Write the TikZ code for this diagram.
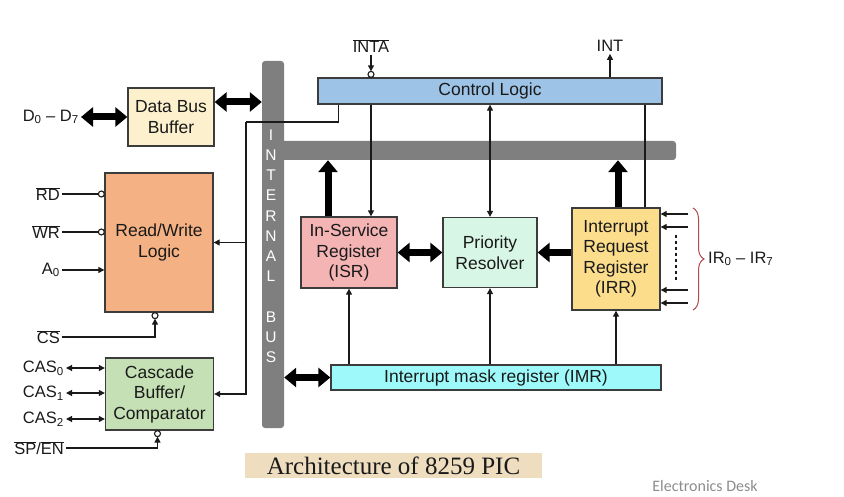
\documentclass[tikz,border=0pt]{standalone}
\usepackage{fontspec}
\setmainfont{Liberation Sans}
\newfontfamily\titlefont{Liberation Serif}
\newfontfamily\deskfont{Carlito}
\usetikzlibrary{arrows.meta,decorations.pathreplacing}
\newcommand{\ovl}[1]{$\overline{\mbox{#1}}$}
\definecolor{picink}{HTML}{1A1A1A}
\definecolor{busgrey}{HTML}{7F7F7F}
\definecolor{dbbfill}{HTML}{FCF0CD}
\definecolor{rwlfill}{HTML}{F4B183}
\definecolor{cbcfill}{HTML}{C5E0B4}
\definecolor{clfill}{HTML}{9DC3E6}
\definecolor{isrfill}{HTML}{F4B4B4}
\definecolor{prfill}{HTML}{D8F6E6}
\definecolor{irrfill}{HTML}{FCDD8C}
\definecolor{imrfill}{HTML}{9EFAFA}
\definecolor{bracered}{HTML}{B04A4A}
\definecolor{titlefill}{HTML}{EEDDBE}
\definecolor{deskgrey}{HTML}{8C8C8C}

\begin{document}
\begin{tikzpicture}[
  x=1pt,
  y=-1pt,
  every node/.style={font=\fontsize{17.5}{20.5}\selectfont, picink},
  block/.style={draw=picink!85, line width=1.3pt, align=center, inner sep=0pt},
  bus/.style={fill=busgrey, rounded corners=3pt, inner sep=0pt},
  busletter/.style={white, font=\fontsize{15.5}{15}\selectfont, inner sep=0pt},
  lbl/.style={font=\fontsize{16.5}{18}\selectfont, inner sep=2pt},
  wire/.style={picink, line width=1.1pt},
  tip/.style={-{Triangle[length=6pt,width=6pt]}},
  tips/.style={{Triangle[length=6pt,width=6pt]}-{Triangle[length=6pt,width=6pt]}},
  bubble/.style={draw=picink, fill=white, line width=1.1pt},
  fat/.style={black, line width=7pt, -{Triangle[length=12pt,width=19pt]}},
  fatboth/.style={fat, {Triangle[length=12pt,width=19pt]}-{Triangle[length=12pt,width=19pt]}}
]
  % ---- page, in pixels of the reference ---------------------------------
  \useasboundingbox (0,0) rectangle (844,497);

  % ---- internal bus ----------------------------------------------------
  \node[bus, minimum width=396pt, minimum height=19pt] (hbus) at (478,150.5) {};
  \node[bus, minimum width=22pt, minimum height=367pt] (vbus) at (273,244.5) {};
  \foreach \ch [count=\i from 0] in {I,N,T,E,R,N,A,L,{},B,U,S}
    \node[busletter] (bl\i) at (271,135+20.2*\i) {\ch};

  % ---- blocks ----------------------------------------------------------
  \node[block, fill=dbbfill, minimum width=86pt, minimum height=58pt] (dbb) at (171,117) {Data Bus\\Buffer};
  \node[block, fill=rwlfill, minimum width=108pt, minimum height=139pt] (rwl) at (159,242.5) {Read/Write\\Logic};
  \node[block, fill=cbcfill, minimum width=108pt, minimum height=72pt] (cbc) at (159.5,394) {Cascade\\Buffer/\\Comparator};
  \node[block, fill=clfill, minimum width=344pt, minimum height=26pt] (cl) at (490,91) {Control Logic};
  \node[block, fill=isrfill, minimum width=96pt, minimum height=71pt] (isr) at (349,252.5) {In-Service\\Register\\(ISR)};
  \node[block, fill=prfill, minimum width=94pt, minimum height=70pt] (pr) at (490,252.5) {Priority\\Resolver};
  \node[block, fill=irrfill, minimum width=88pt, minimum height=102pt] (irr) at (616,259) {Interrupt\\Request\\Register\\(IRR)};
  \node[block, fill=imrfill, minimum width=330pt, minimum height=25pt] (imr) at (496,377.5) {Interrupt mask register (IMR)};

  % ---- data bus side ---------------------------------------------------
  \node[lbl, anchor=east] (d07) at (81,117) {D\textsubscript{0} -- D\textsubscript{7}};
  \draw[fatboth] (d07.east) -- (dbb.west);
  \coordinate (dbbout) at ([yshift=15pt]dbb.east);
  \draw[fatboth] (dbbout) -- (dbbout -| vbus.west);

  % ---- control logic to read/write and cascade -------------------------
  \coordinate (cltap) at ([xshift=21pt]cl.south west);
  \coordinate (rtap) at (246,122);
  \draw[wire] (cltap) |- (rtap);
  \draw[wire, tip] (rtap) |- (cbc.east);
  \draw[wire, tip] (rtap |- rwl.east) -- (rwl.east);

  % ---- INTA and INT ----------------------------------------------------
  \node[lbl] (inta) at (371,46) {\ovl{INTA}};
  \coordinate (intain) at (inta.south |- cl.north);
  \draw[wire, tip] (inta.south) -- ([yshift=6pt]intain);
  \draw[bubble] ([yshift=3pt]intain) circle (3pt);
  \node[lbl] (int) at (610,46) {INT};
  \draw[wire, tip] (int.south |- cl.north) -- (int.south);

  % ---- control logic down to the registers ------------------------------
  \draw[wire, tip] (inta.south |- cl.south) -- (inta.south |- isr.north);
  \draw[wire, tips] (cl.south) -- (pr.north);
  \coordinate (irrtap) at ([xshift=29pt]irr.north);
  \draw[wire] (irrtap) -- (irrtap |- cl.south);

  % ---- wide arrows between the registers and the bus -------------------
  \coordinate (isrup) at ([xshift=-21pt]isr.north);
  \draw[fat] (isrup) -- (isrup |- hbus.south);
  \coordinate (irrup) at ([xshift=2pt]irr.north);
  \draw[fat] (irrup) -- (irrup |- hbus.south);
  \draw[fatboth] (isr.east) -- (pr.west);
  \draw[fat] (pr.east -| irr.west) -- (pr.east);
  \draw[fatboth] (imr.west -| vbus.east) -- (imr.west);

  % ---- mask register up ------------------------------------------------
  \draw[wire, tip] (isr.south |- imr.north) -- (isr.south);
  \draw[wire, tip] (pr.south |- imr.north) -- (pr.south);
  \draw[wire, tip] (irr.south |- imr.north) -- (irr.south);

  % ---- interrupt request inputs ----------------------------------------
  \foreach \ty [count=\j] in {214,227,290,303} {
    \coordinate (irin\j) at (688,\ty);
    \draw[wire, tip] (irin\j) -- (irin\j -| irr.east);
  }
  \draw[wire, dash pattern=on 3pt off 3pt] (676,235) -- (676,281);
  \draw[bracered, line width=1pt, decorate, decoration={brace, amplitude=11pt}] (693,208) -- (693,310);
  \node[lbl, anchor=west] (irlbl) at (706,259) {IR\textsubscript{0} -- IR\textsubscript{7}};

  % ---- read/write inputs -----------------------------------------------
  \node[lbl, anchor=east] (rd) at (62,194) {\ovl{RD}};
  \node[lbl, anchor=east] (wr) at (62,232) {\ovl{WR}};
  \node[lbl, anchor=east] (a0) at (62,270) {A\textsubscript{0}};
  \node[lbl, anchor=east] (cs) at (62,337) {\ovl{CS}};
  \foreach \s in {rd,wr} {
    \coordinate (\s-in) at (rwl.west |- \s.east);
    \draw[wire] (\s.east) -- ([xshift=-6pt]\s-in);
    \draw[bubble] ([xshift=-3pt]\s-in) circle (3pt);
  }
  \draw[wire, tip] (a0.east) -- (a0.east -| rwl.west);
  \coordinate (csin) at ([xshift=-4pt]rwl.south);
  \draw[wire, tip] (cs.east) -| ([yshift=-6pt]csin);
  \draw[bubble] ([yshift=-3pt]csin) circle (3pt);

  % ---- cascade lines ---------------------------------------------------
  \foreach \k/\ty in {0/368,1/393,2/419} {
    \node[lbl, anchor=east] (cas\k) at (66,\ty) {CAS\textsubscript{\k}};
    \draw[wire, tips] (cas\k.east) -- (cas\k.east -| cbc.west);
  }
  \node[lbl, anchor=east] (spen) at (66,448) {\ovl{SP}/\ovl{EN}};
  \coordinate (spenin) at ([xshift=-2pt]cbc.south);
  \draw[wire, tip] (spen.east) -| ([yshift=-6pt]spenin);
  \draw[bubble] ([yshift=-3pt]spenin) circle (3pt);

  % ---- caption and credit ----------------------------------------------
  \node[font=\titlefont\fontsize{25}{28}\selectfont, fill=titlefill, minimum width=297pt, minimum height=25pt, inner sep=0pt] (title) at (393.5,465.5) {Architecture of 8259 PIC};
  \node[font=\deskfont\fontsize{16}{18}\selectfont, deskgrey, anchor=base] (desk) at (705,491) {Electronics Desk};
\end{tikzpicture}
\end{document}
